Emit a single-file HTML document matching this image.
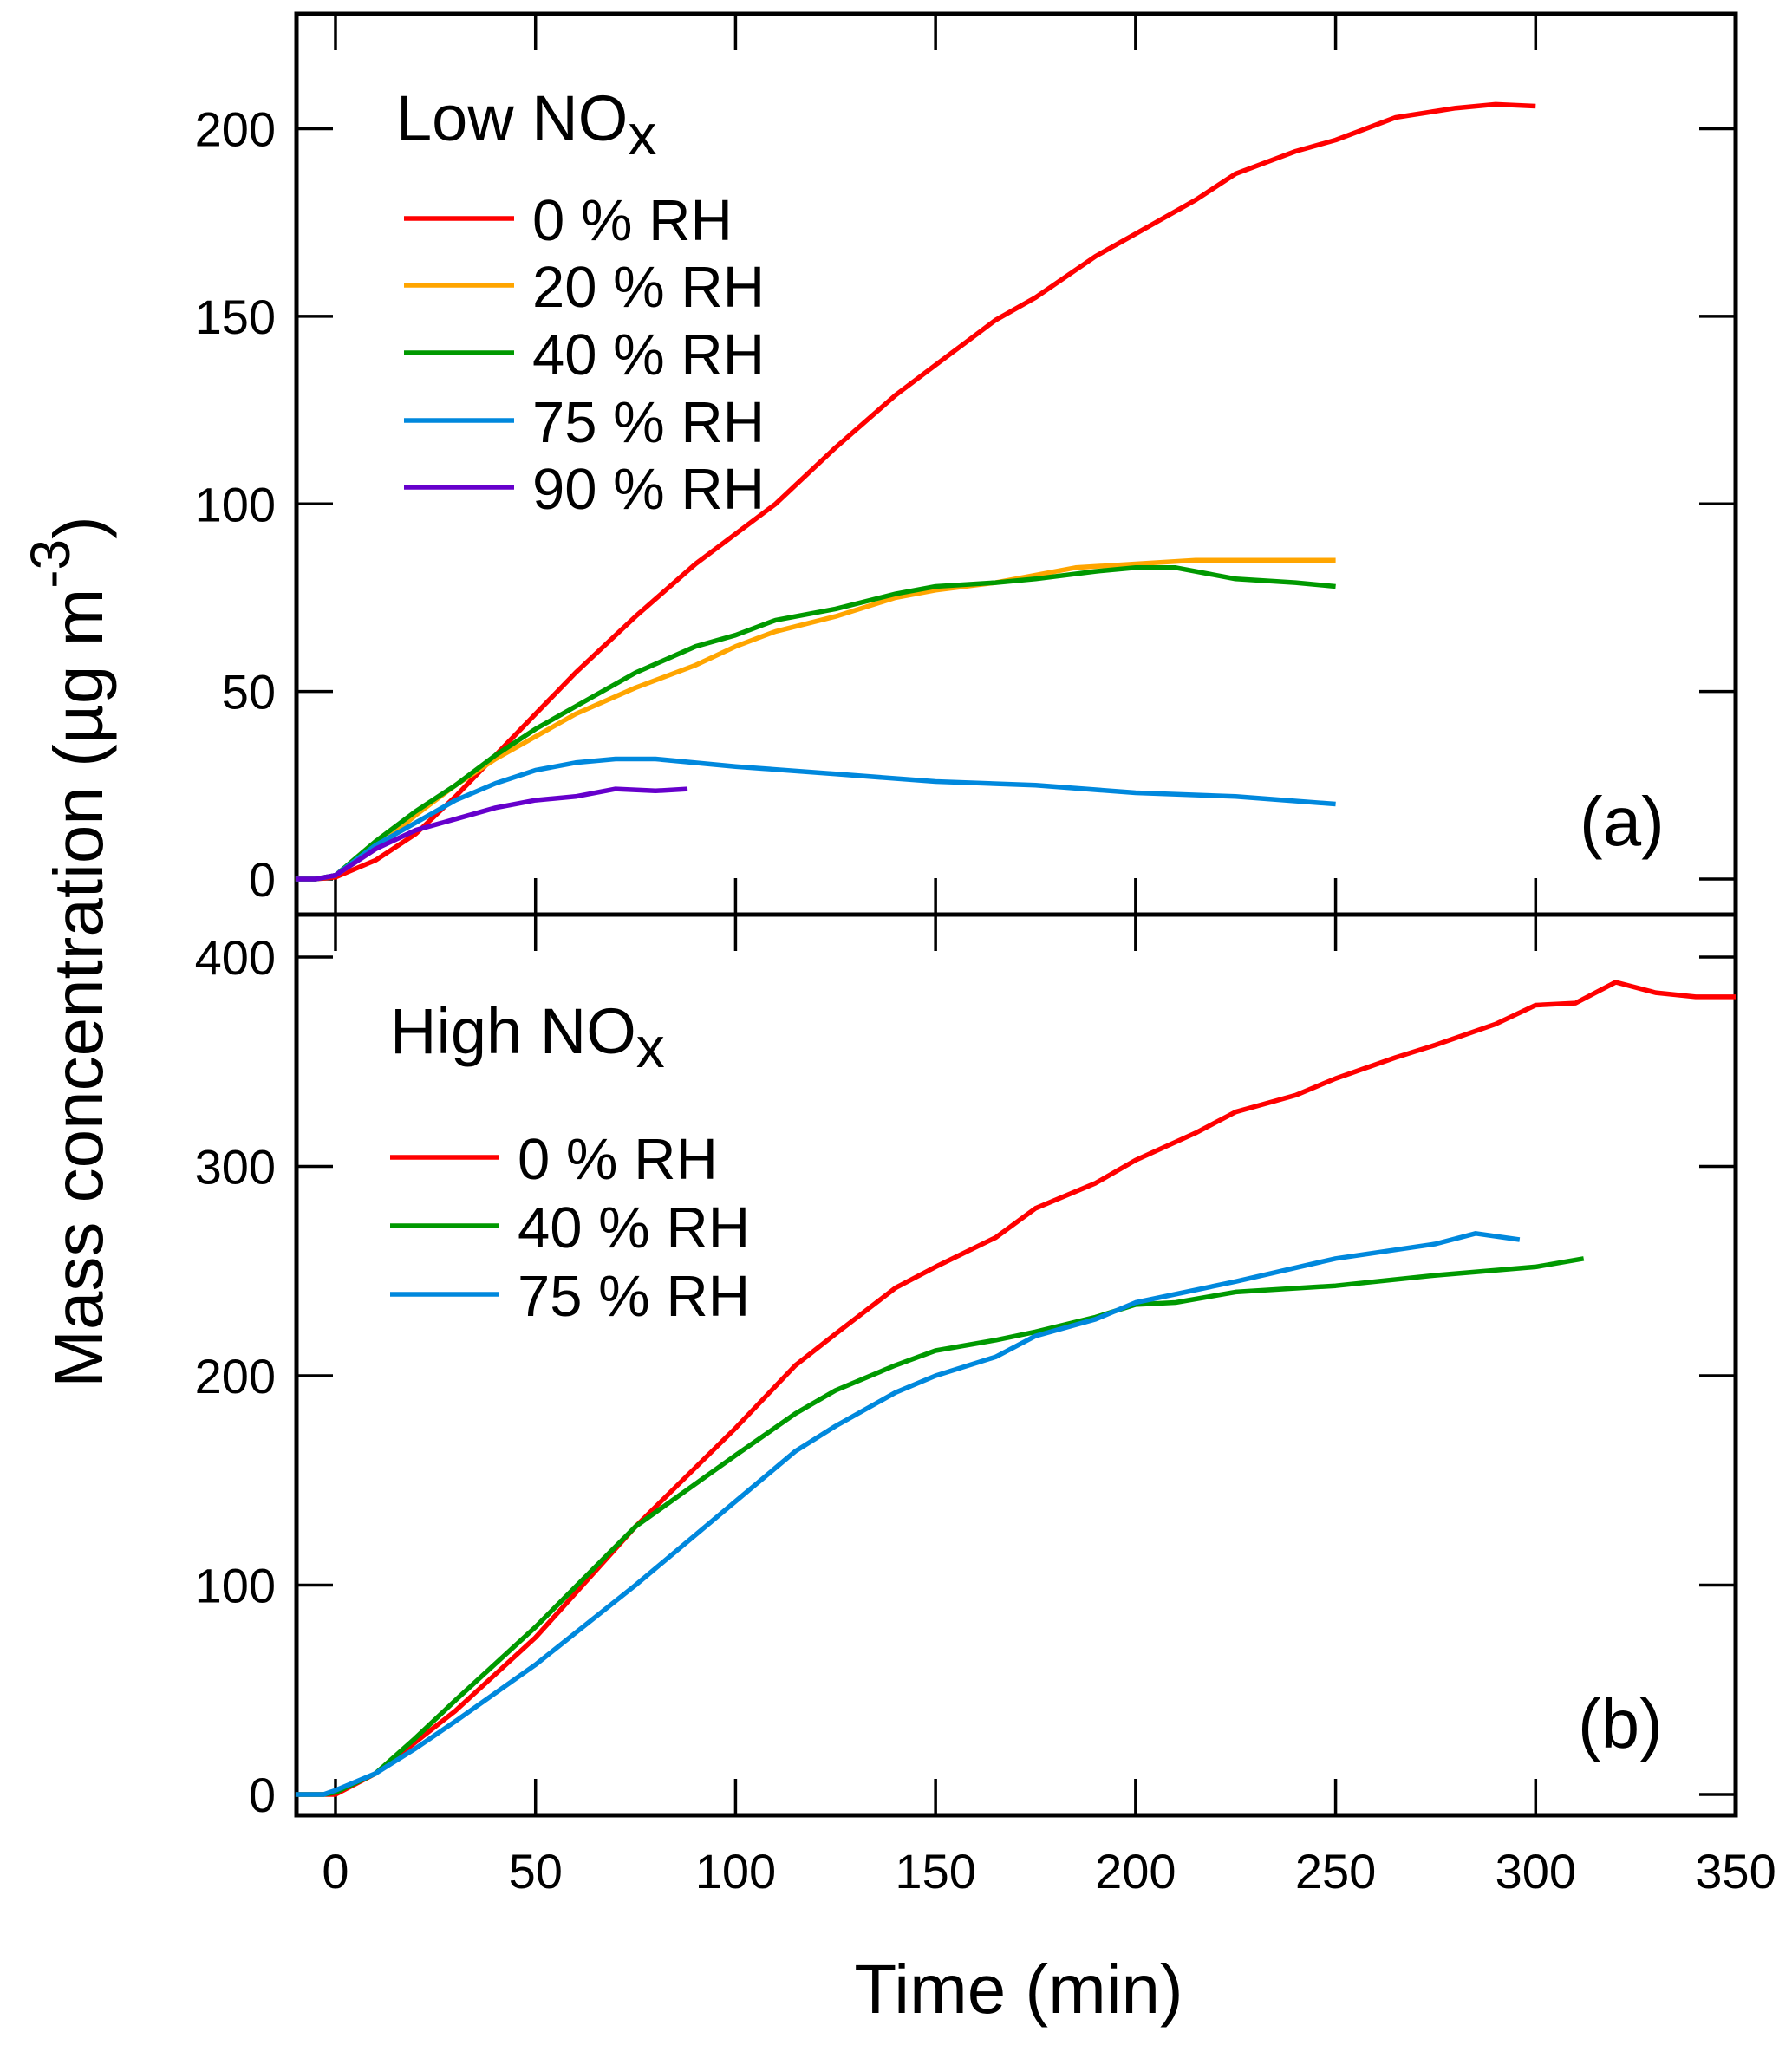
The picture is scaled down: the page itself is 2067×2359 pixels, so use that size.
<!DOCTYPE html>
<html><head><meta charset="utf-8"><style>
html,body{margin:0;padding:0;background:#fff}
svg{display:block;font-family:"Liberation Sans",Arial,sans-serif}
</style></head><body>
<svg id="chart" width="2067" height="2359" viewBox="0 0 2067 2359" xmlns="http://www.w3.org/2000/svg">
<g id="axes"></g><g id="series"></g><g id="labels"></g>
</svg>
<script>
// ---- data ----
const xTicks = [0,50,100,150,200,250,300,350];
const yTicksA = [0,50,100,150,200];
const yTicksB = [0,100,200,300,400];
const lowNames = ["0 % RH","20 % RH","40 % RH","75 % RH","90 % RH"];
const lowColors = ["#ff0000","#ffa500","#009900","#0088dd","#6600cc"];
const lowT0 = [-10,-5,0,10,20,30,40,50,60,75,90,100,110,125,140,150,165,175,190,200,215,225,240,250,265,280,290,300];
const lowV0 = [0,0,0.5,5,12,22,33,44,55,70,84,92,100,115,129,137,149,155,166,172,181,188,194,197,203,205.5,206.5,206];
const lowT20 = [-10,-5,0,10,20,30,40,50,60,75,90,100,110,125,140,150,165,175,185,200,215,230,240,250];
const lowV20 = [0,0,1,8,17,25,32,38,44,51,57,62,66,70,75,77,79,81,83,84,85,85,85,85];
const lowT40 = [-10,-5,0,10,20,30,40,50,60,75,90,100,110,125,140,150,165,175,190,200,210,225,240,250];
const lowV40 = [0,0,1,10,18,25,33,40,46,55,62,65,69,72,76,78,79,80,82,83,83,80,79,78];
const lowT75 = [-10,-5,0,10,20,30,40,50,60,70,80,100,125,150,175,200,225,250];
const lowV75 = [0,0,1,9,15,21,25.5,29,31,32,32,30,28,26,25,23,22,20];
const lowT90 = [-10,-5,0,10,20,30,40,50,60,70,80,88];
const lowV90 = [0,0,1,8,13,16,19,21,22,24,23.5,24];
const highNames = ["0 % RH","40 % RH","75 % RH"];
const highColors = ["#ff0000","#009900","#0088dd"];
const highT0 = [-10,-3,0,10,20,30,50,75,100,115,125,140,150,165,175,190,200,215,225,240,250,265,275,290,300,310,320,330,340,350];
const highV0 = [0,0,0,10,25,40,75,128,175,205,220,242,252,266,280,292,303,316,326,334,342,352,358,368,377,378,388,383,381,381];
const highT40 = [-10,-3,0,10,20,30,50,75,100,115,125,140,150,165,175,190,200,210,225,250,275,300,312];
const highV40 = [0,0,1,10,27,45,80,128,162,182,193,205,212,217,221,228,234,235,240,243,248,252,256];
const highT75 = [-10,-3,0,10,20,30,50,75,100,115,125,140,150,165,175,190,200,225,250,275,285,296];
const highV75 = [0,0,2,10,22,35,62,100,140,164,176,192,200,209,219,227,235,245,256,263,268,265];

// ---- layout ----
const NS="http://www.w3.org/2000/svg";
const L=342,R=2002,T=16,M=1055,B=2094;
const xS=t=>387+(t-0)*(R-387)/350;
const yA=v=>1014-v*(1014-148.5)/200;
const yB=v=>2070-v*(2070-1104)/400;
function mk(tag,attrs,parent){const e=document.createElementNS(NS,tag);for(const k in attrs)e.setAttribute(k,attrs[k]);parent.appendChild(e);return e;}
const axes=document.getElementById('axes'),ser=document.getElementById('series'),lab=document.getElementById('labels');

let fr=mk('rect',{x:L,y:T,width:R-L,height:B-T,fill:'none',stroke:'#000','stroke-width':5},axes);


let dv=mk('line',{x1:L,x2:R,y1:M,y2:M,stroke:'#000','stroke-width':5},axes);



const TL=42;
xTicks.forEach(t=>{
  const x=xS(t);
  [[T,T+TL],[M,M-TL],[M,M+TL],[B,B-TL]].forEach(p=>{
    if(x<R-2){let tk=mk('line',{x1:x,x2:x,y1:p[0],y2:p[1],stroke:'#000','stroke-width':3.5},axes);
    
    }
  });
  let tx=mk('text',{x:x,y:2178,'font-size':56,'text-anchor':'middle'},lab);
  tx.textContent=t;
  
  
});
function yt(vals,sc,name){
  vals.forEach(v=>{
    const y=sc(v);
    [[L,L+TL],[R,R-TL]].forEach(p=>{let tk=mk('line',{x1:p[0],x2:p[1],y1:y,y2:y,stroke:'#000','stroke-width':3.5},axes);
    
    });
    let tx=mk('text',{x:318,y:y+20,'font-size':56,'text-anchor':'end'},lab);
    tx.textContent=v;
    
    
  });
}
yt(yTicksA,yA,'y-axis-a');yt(yTicksB,yB,'y-axis-b');

function line(ts,vs,sc,color,name){
  const d=ts.map((t,i)=>(i?'L':'M')+xS(t).toFixed(1)+','+sc(vs[i]).toFixed(1)).join(' ');
  let p=mk('path',{d:d,fill:'none',stroke:color,'stroke-width':5.5,'stroke-linejoin':'round'},ser);
  
  
}
line(lowT0,lowV0,yA,lowColors[0],'low-nox-0rh-line');
line(lowT20,lowV20,yA,lowColors[1],'low-nox-20rh-line');
line(lowT40,lowV40,yA,lowColors[2],'low-nox-40rh-line');
line(lowT75,lowV75,yA,lowColors[3],'low-nox-75rh-line');
line(lowT90,lowV90,yA,lowColors[4],'low-nox-90rh-line');
line(highT0,highV0,yB,highColors[0],'high-nox-0rh-line');
line(highT40,highV40,yB,highColors[1],'high-nox-40rh-line');
line(highT75,highV75,yB,highColors[2],'high-nox-75rh-line');

function legend(names,colors,x1,x2,tx,ys,name){
  names.forEach((n,i)=>{
    let l=mk('line',{x1:x1,x2:x2,y1:ys[i],y2:ys[i],stroke:colors[i],'stroke-width':5.5},lab);
    
    
    let t=mk('text',{x:tx,y:ys[i]+25,'font-size':67},lab);
    t.textContent=n;
    
    
  });
}
legend(lowNames,lowColors,466,593,614,[252,329,407,485,562],'legend-a');
legend(highNames,highColors,450,576,597,[1335,1414,1493],'legend-b');
</script>
<svg style="position:absolute;left:0;top:0" width="2067" height="2359">
<text x="457" y="162" font-size="74" font-family="Liberation Sans,sans-serif">Low NO<tspan font-size="66" dy="16">x</tspan></text>
<text x="450" y="1215" font-size="74" font-family="Liberation Sans,sans-serif">High NO<tspan font-size="66" dy="16">x</tspan></text>
<text x="1822" y="975" font-size="80" font-family="Liberation Sans,sans-serif">(a)</text>
<text x="1820" y="2016" font-size="80" font-family="Liberation Sans,sans-serif">(b)</text>
<text x="1175" y="2322" font-size="80" text-anchor="middle" font-family="Liberation Sans,sans-serif">Time (min)</text>
<text transform="translate(118,1098) rotate(-90)" font-size="80" text-anchor="middle" font-family="Liberation Sans,sans-serif">Mass concentration (µg m<tspan font-size="64" dy="-38">-3</tspan><tspan dy="38">)</tspan></text>
</svg>
</body></html>
